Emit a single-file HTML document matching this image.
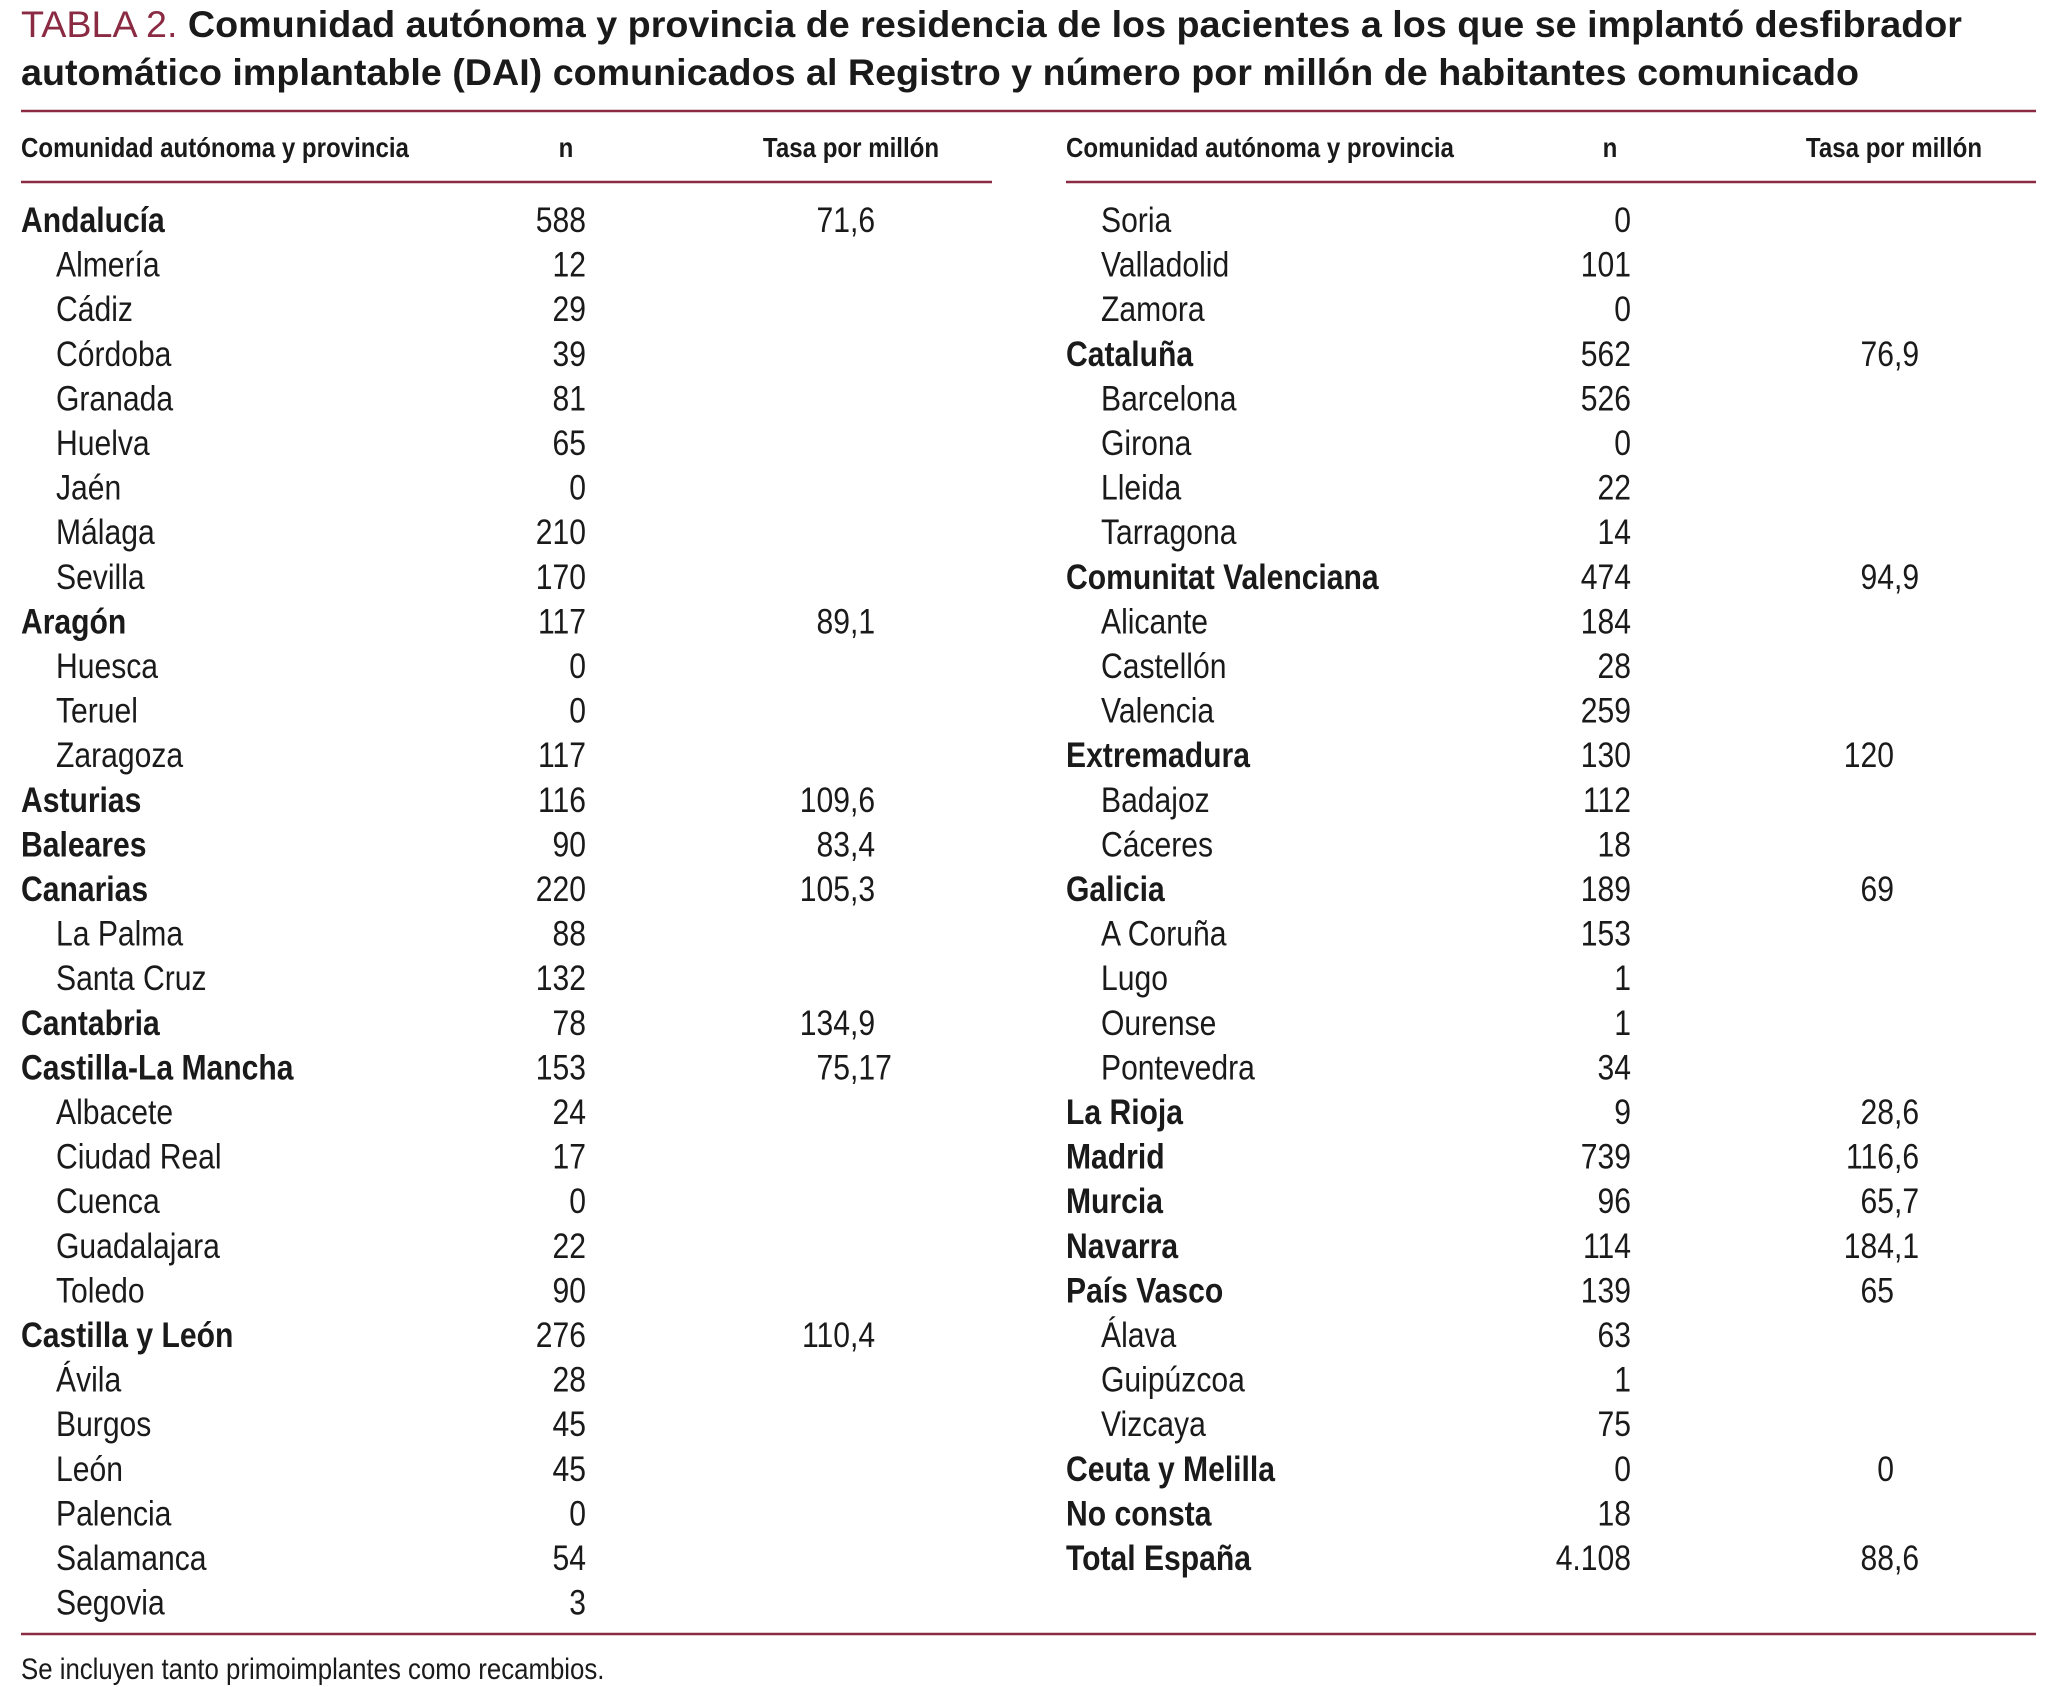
<!DOCTYPE html>
<html><head><meta charset="utf-8"><style>
html,body{margin:0;padding:0;background:#fff}
svg{display:block}
text{font-family:"Liberation Sans Narrow","Liberation Sans",sans-serif;fill:#1a1a1a}
.t{font-size:37px;font-weight:bold}
.h{font-size:28px;font-weight:bold}
.r{font-size:35px}
.f{font-size:30px}
.b{font-weight:bold}
</style></head><body>
<svg id="tbl" width="2045" height="1687" viewBox="0 0 2045 1687" xmlns="http://www.w3.org/2000/svg">
<text class="t" x="21" y="37" textLength="1941" lengthAdjust="spacingAndGlyphs"><tspan style="font-weight:normal;fill:#8b2b43">TABLA 2.</tspan> Comunidad autónoma y provincia de residencia de los pacientes a los que se implantó desfibrador</text>
<text class="t" x="21" y="85" textLength="1838" lengthAdjust="spacingAndGlyphs">automático implantable (DAI) comunicados al Registro y número por millón de habitantes comunicado</text>
<line x1="21" y1="111" x2="2036" y2="111" stroke="#8b2b43" stroke-width="2.5"/>
<line x1="21" y1="182" x2="992" y2="182" stroke="#8b2b43" stroke-width="2.5"/>
<line x1="1066" y1="182" x2="2036" y2="182" stroke="#8b2b43" stroke-width="2.5"/>
<line x1="21" y1="1634" x2="2036" y2="1634" stroke="#8b2b43" stroke-width="2.5"/>
<text class="h sx" x="21" y="157">Comunidad autónoma y provincia</text>
<text class="h sx" x="566" y="157" text-anchor="middle">n</text>
<text class="h sx" x="851" y="157" text-anchor="middle">Tasa por millón</text>
<text class="h sx" x="1066" y="157">Comunidad autónoma y provincia</text>
<text class="h sx" x="1610" y="157" text-anchor="middle">n</text>
<text class="h sx" x="1894" y="157" text-anchor="middle">Tasa por millón</text>
<text class="f sx" x="21" y="1679">Se incluyen tanto primoimplantes como recambios.</text>
<g id="rows"></g>
</svg>
<script>
const leftNames=["Andalucía","Almería","Cádiz","Córdoba","Granada","Huelva","Jaén","Málaga","Sevilla","Aragón","Huesca","Teruel","Zaragoza","Asturias","Baleares","Canarias","La Palma","Santa Cruz","Cantabria","Castilla-La Mancha","Albacete","Ciudad Real","Cuenca","Guadalajara","Toledo","Castilla y León","Ávila","Burgos","León","Palencia","Salamanca","Segovia"];
const leftLevel=[0,1,1,1,1,1,1,1,1,0,1,1,1,0,0,0,1,1,0,0,1,1,1,1,1,0,1,1,1,1,1,1];
const leftN=["588","12","29","39","81","65","0","210","170","117","0","0","117","116","90","220","88","132","78","153","24","17","0","22","90","276","28","45","45","0","54","3"];
const leftRate=["71,6","","","","","","","","","89,1","","","","109,6","83,4","105,3","","","134,9","75,17","","","","","","110,4","","","","","",""];
const rightNames=["Soria","Valladolid","Zamora","Cataluña","Barcelona","Girona","Lleida","Tarragona","Comunitat Valenciana","Alicante","Castellón","Valencia","Extremadura","Badajoz","Cáceres","Galicia","A Coruña","Lugo","Ourense","Pontevedra","La Rioja","Madrid","Murcia","Navarra","País Vasco","Álava","Guipúzcoa","Vizcaya","Ceuta y Melilla","No consta","Total España"];
const rightLevel=[1,1,1,0,1,1,1,1,0,1,1,1,0,1,1,0,1,1,1,1,0,0,0,0,0,1,1,1,0,0,0];
const rightN=["0","101","0","562","526","0","22","14","474","184","28","259","130","112","18","189","153","1","1","34","9","739","96","114","139","63","1","75","0","18","4.108"];
const rightRate=["","","","76,9","","","","","94,9","","","","120","","","69","","","","","28,6","116,6","65,7","184,1","65","","","","0","","88,6"];
const NS="http://www.w3.org/2000/svg";
const SX=0.86;
const g=document.getElementById('rows');
function rowY(i){return 232+i*44.6;}
function txt(x,y,s,anchor,bold,name){
  const t=document.createElementNS(NS,'text');
  t.setAttribute('x',x);t.setAttribute('y',y);
  t.setAttribute('class','r sx'+(bold?' b':''));
  if(anchor)t.setAttribute('text-anchor',anchor);
  t.textContent=s;
  
  
  g.appendChild(t);
}
function table(names,level,ns,rates,x0,xInd,xN,xComma,side){
  names.forEach((nm,i)=>{
    const y=rowY(i),b=level[i]===0;
    txt(level[i]?xInd:x0,y,nm,null,b,side+'-row-label');
    txt(xN,y,ns[i],'end',false,side+'-row-n');
    if(rates[i]){
      const p=rates[i].split(',');
      txt(xComma,y,p[0],'end',false,side+'-row-rate');
      if(p[1]!==undefined)txt(xComma,y,','+p[1],'start',false,side+'-row-rate-decimal');
    }
  });
}
table(leftNames,leftLevel,leftN,leftRate,21,56,586,850,'left');
table(rightNames,rightLevel,rightN,rightRate,1066,1101,1631,1894,'right');
document.querySelectorAll('text.sx').forEach(t=>{
  const x=t.getAttribute('x'),y=t.getAttribute('y');
  t.setAttribute('x',0);t.setAttribute('y',0);
  t.setAttribute('transform','translate('+x+','+y+') scale('+SX+',1)');
});
</script>
</body></html>
